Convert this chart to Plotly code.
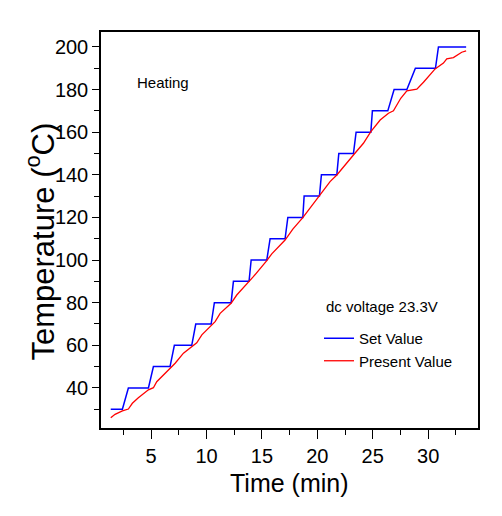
import plotly.graph_objects as go

# Set value (step profile)
set_time = [1.36, 2.41, 2.95, 4.76, 5.21, 6.71, 7.10, 8.67, 9.03, 10.42, 10.71, 12.22,
            12.43, 13.84, 14.03, 15.44, 15.74, 17.09, 17.34, 18.69, 18.81, 20.19, 20.37,
            21.76, 21.94, 23.26, 23.50, 24.83, 24.97, 26.36, 26.93, 28.08, 28.85, 30.66,
            30.93, 33.43]
set_temp = [30, 30, 40, 40, 50, 50, 60, 60, 70, 70, 80, 80, 90, 90, 100, 100, 110, 110,
            120, 120, 130, 130, 140, 140, 150, 150, 160, 160, 170, 170, 180, 180, 190, 190,
            200, 200]

# Present value (measured)
pv_time = [1.36, 1.75, 2.41, 2.95, 3.31, 3.85, 4.76, 5.21, 5.51, 6.11, 6.71, 7.17, 7.92,
           8.67, 9.12, 9.58, 10.42, 10.78, 11.23, 12.22, 12.73, 13.84, 14.23, 15.44, 15.89,
           17.09, 17.54, 17.79, 18.69, 19.35, 20.19, 21.15, 21.76, 22.66, 23.26, 24.16,
           24.83, 25.67, 26.42, 26.87, 27.17, 27.53, 28.08, 28.98, 29.58, 30.63, 31.38,
           31.68, 32.28, 33.03, 33.43]
pv_temp = [26.0, 27.6, 29.2, 30.1, 32.8, 35.4, 39.1, 40.1, 42.9, 46.1, 49.5, 51.6, 56.3,
           59.4, 61.2, 64.9, 69.2, 71.1, 75.0, 79.7, 83.6, 89.9, 92.2, 99.7, 102.9,
           109.4, 112.6, 114.5, 119.9, 124.3, 130.2, 136.8, 139.9, 145.7, 149.3, 154.8,
           160.3, 165.7, 168.9, 170.0, 172.8, 175.9, 179.4, 180.2, 183.4, 189.7, 192.4,
           194.4, 195.0, 197.5, 198.1]

x_ticks = [5, 10, 15, 20, 25, 30]
x_minor = [2.5, 7.5, 12.5, 17.5, 22.5, 27.5, 32.5]
y_ticks = [40, 60, 80, 100, 120, 140, 160, 180, 200]
y_minor = [30, 50, 70, 90, 110, 130, 150, 170, 190]

FONT = "Liberation Sans, Arial, sans-serif"

fig = go.Figure()
fig.add_trace(go.Scatter(x=set_time, y=set_temp, mode="lines", name="Set Value",
                         line=dict(color="#0000ff", width=1.5)))
fig.add_trace(go.Scatter(x=pv_time, y=pv_temp, mode="lines", name="Present Value",
                         line=dict(color="#ff0000", width=1.3)))

W, H = 502, 516
L, R, T, B = 101, 24, 32, 88
PW, PH = W - L - R, H - T - B

fig.update_layout(
    width=W, height=H,
    margin=dict(l=L, r=R, t=T, b=B),
    paper_bgcolor="white", plot_bgcolor="white",
    font=dict(family=FONT, color="black", size=15),
    showlegend=True,
    legend=dict(x=(319 - L) / PW, y=(428 - 322) / PH,
                xanchor="left", yanchor="top", bgcolor="rgba(0,0,0,0)",
                font=dict(family=FONT, size=15, color="black"),
                tracegroupgap=0),
    xaxis=dict(range=[0.48, 34.5], tickvals=x_ticks, ticks="outside", ticklen=9,
               tickwidth=1.3, tickcolor="black", showgrid=False, zeroline=False,
               showline=True, linecolor="black", linewidth=1.5, mirror=True,
               tickfont=dict(family=FONT, size=20),
               minor=dict(tickvals=x_minor, ticks="outside", ticklen=5,
                          tickcolor="black", tickwidth=1.2, showgrid=False)),
    yaxis=dict(range=[21.2, 207.0], tickvals=y_ticks, ticks="outside", ticklen=7,
               tickwidth=1.3, tickcolor="black", showgrid=False, zeroline=False,
               showline=True, linecolor="black", linewidth=1.5, mirror=True,
               tickfont=dict(family=FONT, size=20),
               minor=dict(tickvals=y_minor, ticks="outside", ticklen=5,
                          tickcolor="black", tickwidth=1.2, showgrid=False)),
    annotations=[
        dict(text="Time (min)", xref="paper", yref="paper", x=0.5, y=0,
             yshift=-55, xanchor="center", yanchor="middle", showarrow=False,
             font=dict(family=FONT, size=25, color="black")),
        dict(text="Temperature (<sup>o</sup>C)", xref="paper", yref="paper",
             x=(40.5 - L) / PW, y=(428 - 242) / PH,
             xanchor="center", yanchor="middle", textangle=-90, showarrow=False,
             font=dict(family=FONT, size=31, color="black")),
        dict(text="Heating", xref="paper", yref="paper",
             x=(135 - L) / PW, y=(428 - 82) / PH,
             xanchor="left", yanchor="middle", showarrow=False,
             font=dict(family=FONT, size=15, color="black")),
        dict(text="dc voltage 23.3V", xref="paper", yref="paper",
             x=(324 - L) / PW, y=(428 - 306) / PH,
             xanchor="left", yanchor="middle", showarrow=False,
             font=dict(family=FONT, size=15, color="black")),
    ],
)

fig.write_html("out.html", config={"displayModeBar": False},
               post_script="document.body.style.margin='0px';")
